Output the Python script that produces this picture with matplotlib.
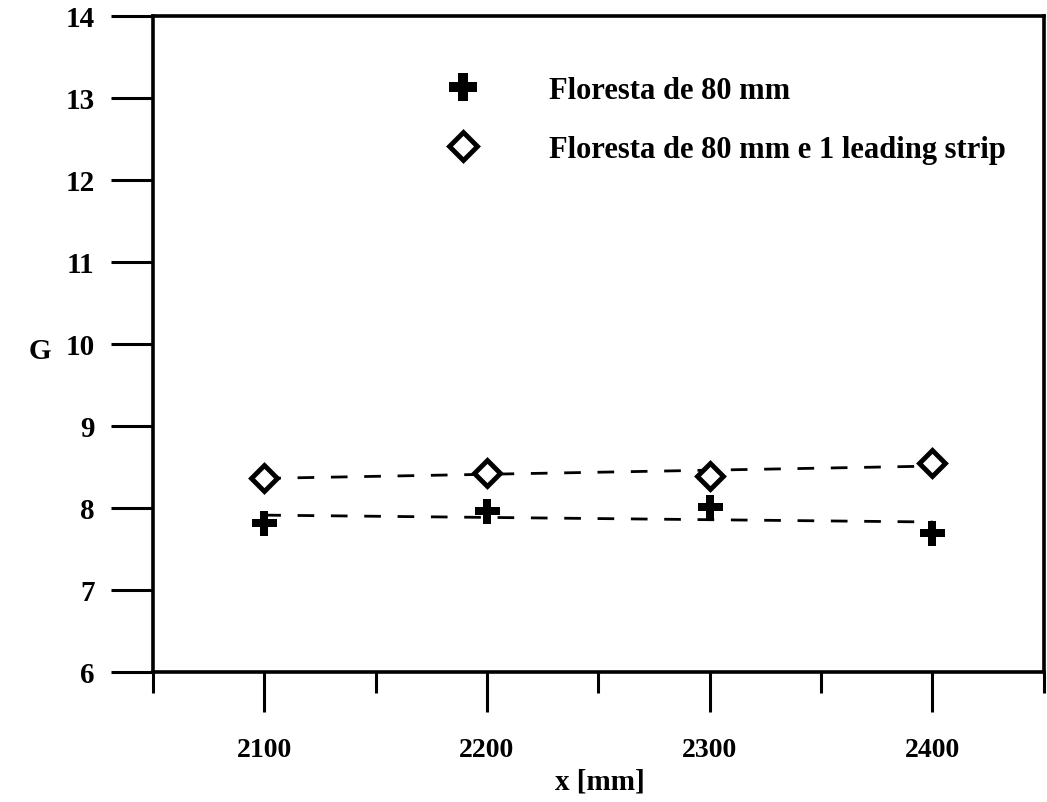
'''
 G versus x for the 80 mm forest, with and without a leading strip
'''
import numpy as np
import matplotlib
matplotlib.use('Agg')
import matplotlib.pyplot as plt
from matplotlib.ticker import MultipleLocator

# Data
x_pos = [2100, 2200, 2300, 2400]
g_floresta = [7.81, 7.96, 8.01, 7.70]
g_floresta_strip = [8.37, 8.43, 8.39, 8.55]
labels = ['Floresta de 80 mm', 'Floresta de 80 mm e 1 leading strip']

plt.rcParams['font.family'] = ['Liberation Serif', 'DejaVu Serif']
plt.rcParams['font.weight'] = 'bold'

fig = plt.figure(figsize = (10.47, 8.03), dpi = 100) # Figure of the graph
ax = fig.add_axes([0.146, 0.162, 0.851, 0.817])

# Linear fits drawn as dashed lines
x_arr = np.array(x_pos, dtype=float)
for g in (g_floresta, g_floresta_strip):
	coef = np.polyfit(x_arr, g, 1)
	ax.plot(x_arr, np.polyval(coef, x_arr), color = 'black', linewidth = 2,
			linestyle = (0, (6, 6)), zorder = 2)

# The measured points
ax.plot(x_pos, g_floresta, linestyle = 'none', marker = 'P', markersize = 18,
		color = 'black', markeredgewidth = 0, label = labels[0], zorder = 3)
ax.plot(x_pos, g_floresta_strip, linestyle = 'none', marker = 'D', markersize = 13,
		markerfacecolor = 'white', markeredgecolor = 'black', markeredgewidth = 3.5,
		label = labels[1], zorder = 3)

ax.set_xlim(2050, 2450) # Sets the X limits
ax.set_ylim(6, 14)      # Sets the Y limits
ax.xaxis.set_minor_locator(MultipleLocator(50))
ax.yaxis.set_major_locator(MultipleLocator(1))
ax.set_xticks([2100, 2200, 2300, 2400])

for sp in ax.spines.values():
	sp.set_linewidth(2.6)

ax.tick_params(axis = 'x', which = 'major', direction = 'out', length = 29, width = 2.2,
			   pad = 18, labelsize = 20)
ax.tick_params(axis = 'x', which = 'minor', direction = 'out', length = 15, width = 2.2)
ax.tick_params(axis = 'y', which = 'major', direction = 'out', length = 30, width = 2.2,
			   pad = 12, labelsize = 21)

ax.set_xlabel('x [mm]', fontsize = 21, fontweight = 'bold')
ax.xaxis.set_label_coords(0.502, -0.145)
ax.set_ylabel('G', fontsize = 21, fontweight = 'bold', rotation = 0, ha = 'center', va = 'center')
ax.yaxis.set_label_coords(-0.127, 0.49)

ax.legend(loc = 'upper left', bbox_to_anchor = (0.333, 0.909), frameon = False,
		  fontsize = 22, numpoints = 1, handlelength = 0.9, handletextpad = 2.35,
		  borderpad = 0, borderaxespad = 0, labelspacing = 1.0, markerscale = 1.1)

fig.savefig('out.png', dpi = 100)
